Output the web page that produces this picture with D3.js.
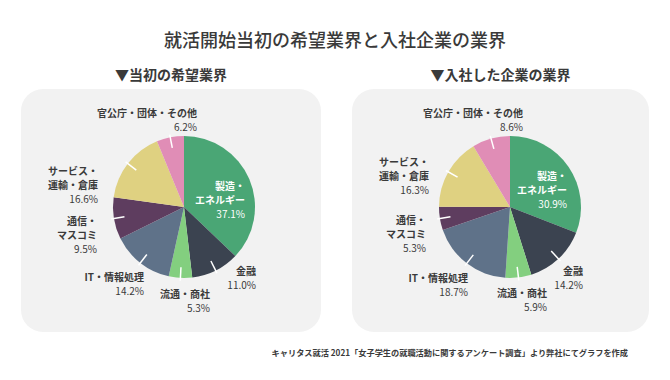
<!DOCTYPE html>
<html>
<head>
<meta charset="utf-8">
<script src="https://cdn.jsdelivr.net/npm/d3@7"></script>
<style>
  body { margin: 0; background: #fff; }
  text { font-family: "Noto Sans CJK JP", "Noto Sans", sans-serif; }
</style>
</head>
<body>
<div id="chart"></div>
<script>
// data
const categories = ["製造・エネルギー", "金融", "流通・商社", "IT・情報処理", "通信・マスコミ", "サービス・運輸・倉庫", "官公庁・団体・その他"];
const labelLines = [["製造・", "エネルギー"], ["金融"], ["流通・商社"], ["IT・情報処理"], ["通信・", "マスコミ"], ["サービス・", "運輸・倉庫"], ["官公庁・団体・その他"]];
const hopeValues = [37.1, 11.0, 5.3, 14.2, 9.5, 16.6, 6.2];
const joinedValues = [30.9, 14.2, 5.9, 18.7, 5.3, 16.3, 8.6];
const colors = ["#4aa675", "#3b4350", "#83cf7f", "#5f7289", "#5e3d5f", "#dfd181", "#e08db6"];

const title = "就活開始当初の希望業界と入社企業の業界";
const panelTitles = ["▼当初の希望業界", "▼入社した企業の業界"];
const source = "キャリタス就活 2021「女子学生の就職活動に関するアンケート調査」より弊社にてグラフを作成";

const width = 670, height = 380;
const textColor = "#3a3a3a";

const svg = d3.select("#chart").append("svg")
    .attr("width", width)
    .attr("height", height);

svg.append("text")
  .attr("x", width / 2)
  .attr("y", 39)
  .attr("text-anchor", "middle")
  .attr("dominant-baseline", "central")
  .attr("font-size", "18px")
  .attr("font-weight", 500)
  .attr("fill", textColor)
  .text(title);

// label anchors relative to pie center: [right edge, vertical middle]
const labelPos = [
  [[61, -8], [72, 70], [26, 93], [-40, 76], [-87, 27], [-86, -23], [13, -88]],
  [[57, -18], [73, 70], [37, 92], [-42, 77], [-84, 26], [-81, -32], [13, -88]]
];

const panels = [
  {x: 21, w: 300, cx: 184, values: hopeValues},
  {x: 352, w: 297, cx: 510, values: joinedValues}
];
const panelTop = 89, panelH = 243, cy = 207, r = 71;

const pie = d3.pie().sort(null).value(d => d);
const arc = d3.arc().innerRadius(0).outerRadius(r);
const lineH = 14;

panels.forEach((p, pi) => {
  svg.append("rect")
    .attr("x", p.x)
    .attr("y", panelTop)
    .attr("width", p.w)
    .attr("height", panelH)
    .attr("rx", 22)
    .attr("fill", "#f2f2f2");

  svg.append("text")
    .attr("x", p.x + p.w / 2)
    .attr("y", 74)
    .attr("text-anchor", "middle")
    .attr("dominant-baseline", "central")
    .attr("font-size", "14px")
    .attr("font-weight", "bold")
    .attr("fill", textColor)
    .text(panelTitles[pi]);

  const g = svg.append("g")
    .attr("transform", `translate(${p.cx}, ${cy})`);

  const arcs = pie(p.values);

  g.selectAll("path")
    .data(arcs)
    .join("path")
      .attr("d", arc)
      .attr("fill", (d, i) => colors[i]);

  // white leader ticks (not on the big inside slice)
  g.selectAll("line")
    .data(arcs.filter(d => d.index > 0))
    .join("line")
      .attr("x1", d => Math.sin((d.startAngle + d.endAngle) / 2) * r * 0.85)
      .attr("y1", d => -Math.cos((d.startAngle + d.endAngle) / 2) * r * 0.85)
      .attr("x2", d => Math.sin((d.startAngle + d.endAngle) / 2) * r * 1.04)
      .attr("y2", d => -Math.cos((d.startAngle + d.endAngle) / 2) * r * 1.04)
      .attr("stroke", "#fff")
      .attr("stroke-width", 1.5);

  // labels
  arcs.forEach((d, i) => {
    const lines = labelLines[i].concat([d3.format(".1f")(d.data) + "%"]);
    const [lx, ly] = labelPos[pi][i];
    const inside = i === 0;
    const t = g.append("text")
      .attr("text-anchor", "end")
      .attr("font-size", "10px")
      .attr("fill", inside ? "#fff" : textColor);
    lines.forEach((s, k) => {
      t.append("tspan")
        .attr("x", lx)
        .attr("y", ly + (k - (lines.length - 1) / 2) * lineH)
        .attr("dominant-baseline", "central")
        .attr("font-weight", k < lines.length - 1 ? "bold" : "normal")
        .text(s);
    });
  });
});

svg.append("text")
  .attr("x", 628)
  .attr("y", 352)
  .attr("text-anchor", "end")
  .attr("dominant-baseline", "central")
  .attr("font-size", "8.2px")
  .attr("font-weight", "bold")
  .attr("fill", textColor)
  .text(source);
</script>
</body>
</html>
